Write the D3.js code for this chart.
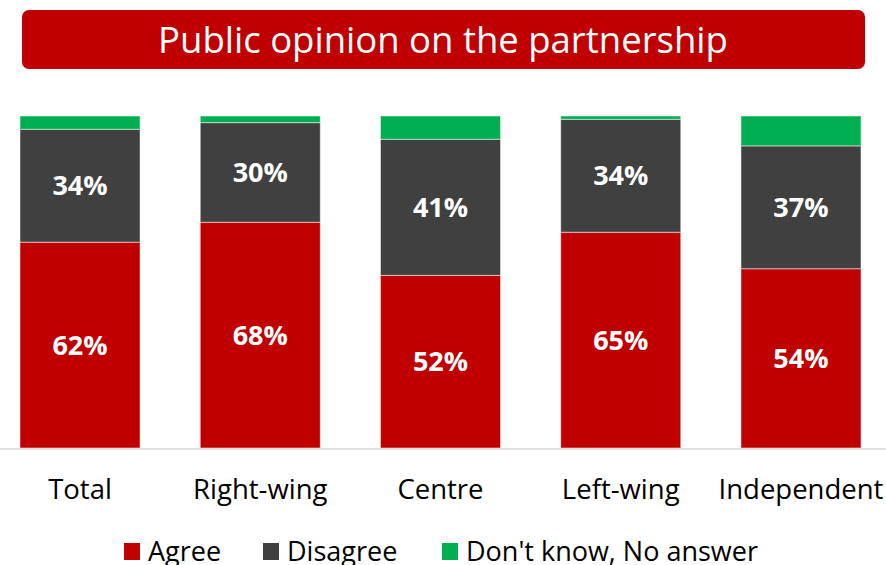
<!DOCTYPE html>
<html>
<head>
<meta charset="utf-8">
<script src="https://cdn.jsdelivr.net/npm/d3@7"></script>
<style>
  body { margin: 0; background: #fff; }
  svg { display: block; font-family: "Open Sans", "Liberation Sans", sans-serif; }
</style>
</head>
<body>
<svg id="chart" width="886" height="565"></svg>
<script>
var categories = ["Total", "Right-wing", "Centre", "Left-wing", "Independent"];
var agree = [62, 68, 52, 65, 54];
var disagree = [34, 30, 41, 34, 37];
var dontKnow = [4, 2, 7, 1, 9];
var seriesNames = ["Agree", "Disagree", "Don't know, No answer"];
var colors = ["#c00000", "#404040", "#00b050"];

var svg = d3.select("#chart"),
    width = +svg.attr("width");

var data = categories.map(function(c, i) {
  return { cat: c, Agree: agree[i], Disagree: disagree[i], "Don't know, No answer": dontKnow[i] };
});

var x = d3.scaleBand()
    .domain(categories)
    .range([0, 881])
    .paddingInner(0.334)
    .paddingOuter(0.111);

var y = d3.scaleLinear()
    .domain([0, 100])
    .range([448, 116]);

var z = d3.scaleOrdinal().domain(seriesNames).range(colors);

var stack = d3.stack().keys(seriesNames)(data);

// title banner
svg.append("rect")
    .attr("x", 22).attr("y", 10)
    .attr("width", 843).attr("height", 59)
    .attr("rx", 7)
    .attr("fill", "#c00000");

svg.append("text")
    .attr("x", 443).attr("y", 40)
    .attr("dy", "0.35em")
    .attr("text-anchor", "middle")
    .attr("fill", "#fff")
    .attr("font-size", 36.5)
    .text("Public opinion on the partnership");

// bars
svg.append("g")
  .selectAll("g")
  .data(stack)
  .enter().append("g")
    .attr("fill", function(d) { return z(d.key); })
  .selectAll("rect")
  .data(function(d) { return d; })
  .enter().append("rect")
    .attr("x", function(d) { return x(d.data.cat); })
    .attr("y", function(d) { return y(d[1]); })
    .attr("width", x.bandwidth())
    .attr("height", function(d) { return y(d[0]) - y(d[1]); })
    .attr("stroke", "#ffffff")
    .attr("stroke-opacity", 0.5)
    .attr("stroke-width", 1);

// labels for agree and disagree
svg.append("g")
  .selectAll("g")
  .data(stack.slice(0, 2))
  .enter().append("g")
  .selectAll("text")
  .data(function(d) { return d; })
  .enter().append("text")
    .attr("x", function(d) { return x(d.data.cat) + x.bandwidth() / 2; })
    .attr("y", function(d) { return y((d[0] + d[1]) / 2); })
    .attr("dy", "0.35em")
    .attr("text-anchor", "middle")
    .attr("fill", "#fff")
    .attr("font-weight", "bold")
    .attr("font-size", 27)
    .text(function(d) { return (d[1] - d[0]) + "%"; });

// axis
var axis = svg.append("g")
    .attr("transform", "translate(0," + 449 + ")")
    .call(d3.axisBottom(x).tickSize(0).tickPadding(30));
axis.select(".domain").attr("d", "M0,0H" + width).attr("stroke", "#d9d9d9").attr("stroke-width", 1.5);
axis.selectAll("text")
    .attr("font-family", "'Open Sans', sans-serif")
    .attr("font-size", 27.5)
    .attr("dy", "0.71em")
    .attr("y", 30)
    .attr("fill", "#000");

// legend
var legendX = [124, 263, 442];
var legend = svg.append("g")
  .selectAll("g")
  .data(seriesNames)
  .enter().append("g")
    .attr("transform", function(d, i) { return "translate(" + legendX[i] + ",543)"; });

legend.append("rect")
    .attr("width", 16)
    .attr("height", 17)
    .attr("fill", z);

legend.append("text")
    .attr("x", 24)
    .attr("y", 9)
    .attr("dy", "0.35em")
    .attr("font-size", 27)
    .attr("fill", "#000")
    .text(function(d) { return d; });
</script>
</body>
</html>
